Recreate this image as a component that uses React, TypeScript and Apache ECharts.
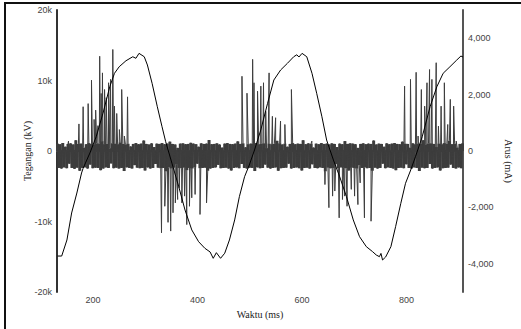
import { useEffect, useRef } from "react";
import * as echarts from "echarts";

const xMin = 131;
const xMax = 908;
const xTicks = [200, 400, 600, 800];
const leftTicks = [-20000, -10000, 0, 10000, 20000];
const rightTicks = [-4000, -2000, 0, 2000, 4000];

// Tegangan (V) vs waktu (ms)
const teganganTime = [
  132, 140, 150, 159, 169, 178, 181, 194, 206, 219,
  232, 241, 250, 263, 276, 282, 288, 298, 304, 313,
  323, 332, 339, 351, 364, 376, 389, 402, 414, 424,
  430, 436, 444, 452, 461, 471, 480, 490, 499, 509,
  521, 534, 546, 559, 572, 584, 590, 594, 600, 609,
  619, 628, 638, 647, 660, 672, 685, 698, 710, 723,
  735, 742, 748, 751, 754, 760, 770, 779, 789, 798,
  808, 817, 830, 845, 858, 870, 883, 896, 904, 908,
];
const teganganV = [
  -14900, -14900, -12620, -8790, -5960, -3120, -2450, -280, 2030, 5350,
  9120, 11020, 11950, 12800, 13370, 13150, 13850, 13370, 12200, 9600,
  6280, 3450, 1320, -1740, -5060, -8370, -11200, -12860, -13800, -14320,
  -15220, -14420, -15220, -14500, -12620, -9780, -6480, -3640, -1990, 140,
  2980, 6760, 10070, 11490, 12440, 13370, 13650, 13330, 13850, 13370,
  11020, 8180, 4860, 1560, -1280, -3640, -6480, -9780, -12150, -13570,
  -14280, -14750, -14990, -14530, -15460, -15030, -13570, -10730, -7420, -4580,
  -2690, -810, 2030, 6280, 9120, 11020, 11950, 12900, 13470, 13330,
];

// Arus (mA): sampled noise floor, alternating upper / lower samples
const arusStart = 132;
const arusStep = 2.5;
const arusNoiseHi = [
  260, 240, 280, 150, 250, 270, 230, 380, 250, 260, 120, 240, 280,
  250, 230, 270, 260, 350, 240, 250, 100, 270, 260, 240, 300, 250,
  230, 260, 160, 250, 280, 240, 260, 370, 250, 230, 270, 140, 260,
  250, 280, 240, 260, 330, 250, 230, 110, 260, 270, 240, 250, 290,
  260, 240, 150, 270, 250, 260, 390, 240, 250, 270, 230, 120, 260,
  280, 250, 240, 260, 340, 250, 270, 130, 240, 260, 250, 280, 240,
  250, 270, 100, 260, 240, 250, 360, 270, 230, 260, 150, 250, 280,
  240, 260, 250, 380, 240, 270, 250, 120, 260, 240, 280, 250, 260,
  230, 270, 250, 140, 260, 240, 350, 250, 270, 260, 240, 110, 250,
  270, 240, 260, 250, 370, 230, 260, 250, 150, 270, 240, 260, 280,
  250, 240, 330, 260, 250, 120, 270, 240, 260, 250, 380, 240, 260,
  270, 250, 140, 260, 240, 280, 250, 360, 240, 260, 120, 250, 270,
];
const arusNoiseLo = [
  -600, -620, -580, -610, -450, -600, -630, -590, -700, -600, -580, -620, -480,
  -610, -590, -600, -680, -620, -580, -600, -440, -610, -590, -620, -600, -710,
  -580, -600, -620, -500, -590, -610, -600, -690, -580, -620, -600, -460, -590,
  -610, -600, -720, -580, -620, -590, -470, -600, -610, -590, -680, -600, -620,
  -580, -450, -610, -600, -590, -700, -620, -600, -580, -490, -610, -600, -590,
  -620, -690, -600, -580, -610, -460, -600, -620, -590, -600, -710, -580, -610,
  -600, -480, -590, -620, -600, -580, -700, -610, -600, -590, -450, -620, -600,
  -580, -610, -690, -600, -590, -620, -470, -600, -610, -580, -600, -720, -590,
  -610, -600, -460, -620, -580, -600, -610, -690, -590, -600, -620, -500, -600,
  -580, -610, -600, -700, -590, -620, -600, -450, -610, -580, -600, -620, -680,
  -600, -590, -610, -470, -600, -620, -580, -600, -710, -590, -610, -600, -460,
  -620, -600, -580, -690, -610, -600, -590, -480, -600, -620, -580, -610,
];
// Partial-discharge spikes [ms, mA]
const arusSpikes: [number, number][] = [
  [153, 350], [173, 960], [181, 1570], [190.6, 1680], [197, 2510], [202, 1120],
  [205, 1450], [209.4, 900], [212.7, 3360], [215.5, 2040], [218, 2770], [222, 2180],
  [225.3, 1890], [229.7, 2420], [233.4, 2540], [237.8, 3600], [241, 1590], [245.3, 1330],
  [250.4, 760], [254.8, 2180], [259.9, 530], [266, 1920],
  [331, -2900], [337.3, -1960], [343.5, -2530], [348.6, -2840], [353, -2190], [357.5, -1840],
  [361.9, -1720], [365, -1300], [370, -1840], [375.1, -1600], [379.4, -2610], [384.5, -1960],
  [388.9, -1660], [395.3, -1540], [404.7, -2250], [417.2, -1840],
  [485, 2650], [494.6, 2050], [505.4, 3250], [508, 2420], [514.8, 2120], [521.1, 2300],
  [526.2, 2420], [530.5, 1410], [536.9, 2770], [543.2, 1230], [549.4, 1180], [558.8, 1060],
  [567.1, 940], [579.6, 2180], [618.7, 350],
  [643.8, -1190], [651.4, -2010], [658.4, -1600], [662.7, -1420], [671, -2370], [677.3, -1720],
  [681.6, -1600], [686.1, -1960], [694.2, -1360], [700.5, -1600], [706.9, -1900], [711.2, -1130],
  [719.4, -2370], [732, -2490],
  [796.2, 2300], [807.5, 2540], [818.3, 2790], [822, 530], [828.3, 2180], [834.6, 1590],
  [839.1, 2420], [844, 2890], [848.5, 2540], [856.7, 3130], [861, 880], [866.1, 1590],
  [872.3, 2420], [878.8, 940], [883.7, 1830], [890.1, 1590], [895, 350],
];

export default function App() {
  const ref = useRef<HTMLDivElement>(null);
  useEffect(() => {
    const chart = echarts.init(ref.current!, null, { renderer: "svg" });
    const noise: [number, number][] = [];
    const n = arusNoiseHi.length + arusNoiseLo.length;
    for (let i = 0; i < n; i++) {
      const v = i % 2 === 0 ? arusNoiseHi[i >> 1] : arusNoiseLo[i >> 1];
      noise.push([arusStart + i * arusStep, v]);
    }
    const arusData = noise.concat(arusSpikes).sort((a, b) => a[0] - b[0]);
    const teganganData = teganganTime.map((t, i) => [t, teganganV[i]]);

    const labelFont = { fontFamily: "Liberation Sans", fontSize: 9, color: "#444" };
    const nameFont = { fontFamily: "Liberation Serif", fontSize: 10, color: "#222" };
    const bandColor = "#3d3d3d";

    chart.setOption({
      animation: false,
      backgroundColor: "#fff",
      grid: { left: 57, right: 53, top: 10, bottom: 37, containLabel: false },
      graphic: [
        { type: "line", shape: { x1: 5, y1: 3, x2: 521, y2: 3 }, style: { stroke: "#111", lineWidth: 2 } },
        { type: "line", shape: { x1: 5, y1: 2, x2: 5, y2: 329 }, style: { stroke: "#111", lineWidth: 2 } },
      ],
      xAxis: {
        type: "value",
        min: xMin,
        max: xMax,
        name: "Waktu (ms)",
        nameLocation: "middle",
        nameGap: 17,
        nameMoveOverlap: false,
        nameTextStyle: nameFont,
        axisLine: { lineStyle: { color: "#555", width: 2 } },
        axisTick: { show: false },
        splitLine: { show: false },
        axisLabel: {
          ...labelFont,
          margin: 3,
          customValues: xTicks,
          formatter: (v: number) => (xTicks.includes(v) ? String(v) : ""),
        },
      },
      yAxis: [
        {
          type: "value",
          min: -20000,
          max: 20000,
          interval: 10000,
          position: "left",
          name: "Tegangan (kV)",
          nameLocation: "middle",
          nameRotate: 90,
          nameGap: 25,
          nameMoveOverlap: false,
          nameTextStyle: nameFont,
          axisLine: { show: true, lineStyle: { color: "#333", width: 2 } },
          axisTick: { show: false },
          splitLine: { show: false },
          axisLabel: {
            ...labelFont,
            margin: 5,
            formatter: (v: number) => (leftTicks.includes(v) ? (v === 0 ? "0" : v / 1000 + "k") : ""),
          },
        },
        {
          type: "value",
          min: -5000,
          max: 5000,
          interval: 1000,
          position: "right",
          name: "Arus (mA)",
          nameLocation: "middle",
          nameRotate: -90,
          nameGap: 40,
          nameMoveOverlap: false,
          nameTextStyle: { ...nameFont, padding: [0, 0, 0, 20] },
          axisLine: { show: true, lineStyle: { color: "#555", width: 2 } },
          axisTick: { show: false },
          splitLine: { show: false },
          axisLabel: {
            ...labelFont,
            margin: 5,
            customValues: rightTicks,
            formatter: (v: number) => (rightTicks.includes(v) ? v.toLocaleString("en-US") : ""),
          },
        },
      ],
      series: [
        {
          name: "Arus (dasar)",
          type: "bar",
          yAxisIndex: 1,
          data: noise,
          barWidth: 3,
          itemStyle: { color: bandColor },
          silent: true,
          z: 1,
        },
        {
          name: "Arus",
          type: "line",
          yAxisIndex: 1,
          data: arusData,
          showSymbol: false,
          symbol: "none",
          lineStyle: { color: bandColor, width: 1 },
          z: 2,
        },
        {
          name: "Tegangan",
          type: "line",
          yAxisIndex: 0,
          data: teganganData,
          showSymbol: false,
          symbol: "none",
          lineStyle: { color: "#000", width: 1 },
          z: 3,
        },
      ],
    });
    return () => chart.dispose();
  }, []);
  return <div ref={ref} style={{ position: "absolute", left: 0, top: 0, width: 521, height: 329 }} />;
}
